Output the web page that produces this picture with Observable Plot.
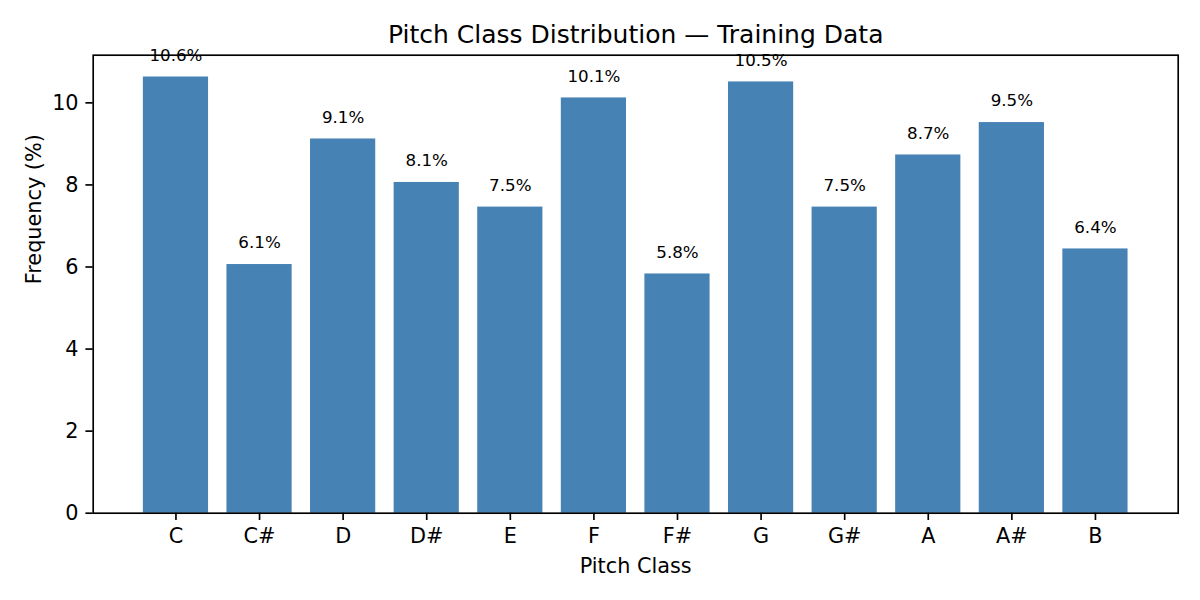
<!DOCTYPE html>
<html>
<head>
<meta charset="utf-8">
<script src="https://cdn.jsdelivr.net/npm/d3@7"></script>
<script src="https://cdn.jsdelivr.net/npm/@observablehq/plot@0.6"></script>
<style>
  html, body { margin: 0; padding: 0; background: #fff; }
  #chart svg { display: block; }
</style>
</head>
<body>
<div id="chart"></div>
<script>
const pitchClasses = ["C", "C#", "D", "D#", "E", "F", "F#", "G", "G#", "A", "A#", "B"];
const frequencies = [10.63, 6.06, 9.12, 8.06, 7.46, 10.12, 5.83, 10.51, 7.46, 8.73, 9.52, 6.44];
const yTicks = [0, 2, 4, 6, 8, 10];
const titleText = "Pitch Class Distribution — Training Data";
const xLabel = "Pitch Class";
const yLabel = "Frequency (%)";

const data = pitchClasses.map((p, i) => ({pitch: p, freq: frequencies[i]}));
const yMax = d3.max(frequencies) * 1.05;

const chart = Plot.plot({
  width: 1200,
  height: 600,
  marginLeft: 92.7,
  marginRight: 22.3,
  marginTop: 54.7,
  marginBottom: 87.3,
  style: {fontFamily: "'DejaVu Sans', sans-serif", background: "white", color: "black"},
  x: {domain: pitchClasses, paddingInner: 0.22, paddingOuter: 0.6, align: 0.5, round: false},
  y: {domain: [0, yMax]},
  marks: [
    Plot.barY(data, {x: "pitch", y: "freq", fill: "#4682b4"}),
    Plot.text(data, {
      x: "pitch",
      y: d => d.freq + 0.3,
      text: d => d.freq.toFixed(1) + "%",
      lineAnchor: "bottom",
      dy: -3.9,
      fontSize: 16.7,
      fill: "black"
    }),
    Plot.axisX({tickSize: 7.3, tickPadding: 7.3, fontSize: 20.8, label: null, strokeWidth: 1.67}),
    Plot.axisY({ticks: yTicks, tickSize: 7.3, tickPadding: 7.3, fontSize: 20.8, label: null, strokeWidth: 1.67}),
    Plot.frame({stroke: "black", strokeWidth: 1.67}),
    Plot.text([titleText], {text: d => d, frameAnchor: "top", dy: -12.7, lineAnchor: "bottom", fontSize: 25, fill: "black"}),
    Plot.text([xLabel], {text: d => d, frameAnchor: "bottom", dy: 59.3, lineAnchor: "bottom", fontSize: 20.8, fill: "black"}),
    Plot.text([yLabel], {text: d => d, frameAnchor: "left", dx: -59, rotate: -90, fontSize: 20.8, fill: "black"})
  ]
});
document.getElementById("chart").appendChild(chart);
</script>
</body>
</html>
